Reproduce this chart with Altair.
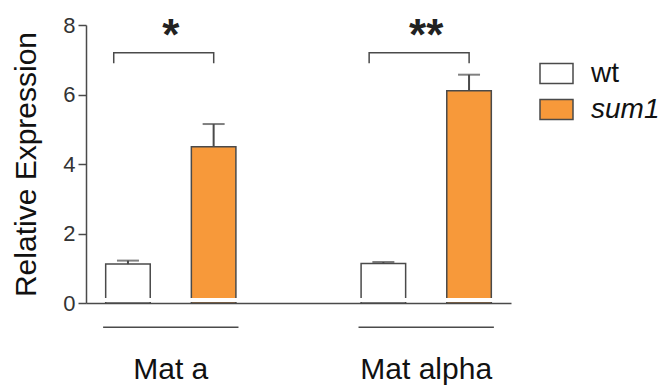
import altair as alt
import pandas as pd

groups = ["Mat a", "Mat alpha"]
genotypes = ["wt", "sum1"]
wt_mean = [1.12, 1.14]
wt_err = [0.10, 0.04]
sum1_mean = [4.50, 6.11]
sum1_err = [0.65, 0.46]
stars = ["*", "**"]
bracket_top = [7.2, 7.2]
bracket_leg = [6.9, 6.9]

ORANGE = "#F7993A"
LINE = "#4a4a4a"
FONT = "Liberation Sans"

rows = []
for i, g in enumerate(groups):
    rows.append({"group": g, "genotype": "wt", "mean": wt_mean[i], "upper": wt_mean[i] + wt_err[i]})
    rows.append({"group": g, "genotype": "sum1", "mean": sum1_mean[i], "upper": sum1_mean[i] + sum1_err[i]})
df = pd.DataFrame(rows)

br = []
for i, g in enumerate(groups):
    br += [
        {"group": g, "genotype": "wt", "y": bracket_leg[i], "o": 0},
        {"group": g, "genotype": "wt", "y": bracket_top[i], "o": 1},
        {"group": g, "genotype": "sum1", "y": bracket_top[i], "o": 2},
        {"group": g, "genotype": "sum1", "y": bracket_leg[i], "o": 3},
    ]
bdf = pd.DataFrame(br)
sdf = pd.DataFrame({"group": groups, "star": stars, "y": bracket_top})
gdf = pd.DataFrame({"group": groups})

xscale = alt.Scale(domain=groups, paddingInner=0.47, paddingOuter=0.067)
x = alt.X("group:N", scale=xscale,
          axis=alt.Axis(title=None, labelAngle=0, ticks=False, tickSize=0,
                        labelPadding=51, labelFontSize=30, labelColor="#111",
                        labelFont=FONT, domainColor=LINE, domainWidth=1.5))
xoff = alt.XOffset("genotype:N", scale=alt.Scale(domain=genotypes, paddingInner=0.48, paddingOuter=0.03))
yscale = alt.Scale(domain=[0, 8], nice=False)
y = alt.Y("mean:Q", scale=yscale,
          axis=alt.Axis(title="Relative Expression", values=[0, 2, 4, 6, 8],
                        grid=False, tickSize=8, tickColor=LINE, tickWidth=1.5,
                        domainColor=LINE, domainWidth=1.5, labelFontSize=22,
                        labelColor="#333", labelPadding=3, labelFont=FONT,
                        titleFont=FONT, titleFontSize=30, titleFontWeight="normal",
                        titleColor="#111", titlePadding=21))

bars = alt.Chart(df).mark_bar(stroke=LINE, strokeWidth=1.5).encode(
    x=x, xOffset=xoff, y=y, y2=alt.datum(0),
    fill=alt.Fill("genotype:N", scale=alt.Scale(domain=genotypes, range=["white", ORANGE]),
                  legend=alt.Legend(title=None, orient="none", legendX=453, legendY=31,
                                    symbolType="M-1,-0.6H1V0.6H-1Z", symbolSize=1089,
                                    symbolStrokeColor=LINE, symbolStrokeWidth=1.5,
                                    symbolOpacity=1,
                                    labelFontSize=28, labelFont=FONT, labelColor="#111",
                                    labelOffset=17, rowPadding=4,
                                    labelFontStyle=alt.expr("datum.label == 'sum1' ? 'italic' : 'normal'"))),
)

cover = alt.Chart(gdf).mark_bar(color="white", yOffset=-1, y2Offset=-5).encode(
    x=alt.X("group:N", scale=xscale), y=alt.datum(0, scale=yscale), y2=alt.datum(0),
)

stem = alt.Chart(df).mark_rule(color=LINE, strokeWidth=2).encode(
    x=alt.X("group:N", scale=xscale), xOffset=xoff,
    y=alt.Y("mean:Q", scale=yscale), y2="upper:Q",
)
cap = alt.Chart(df).mark_tick(color=LINE, thickness=2, size=22, orient="horizontal").encode(
    x=alt.X("group:N", scale=xscale), xOffset=xoff,
    y=alt.Y("upper:Q", scale=yscale),
)

bracket = alt.Chart(bdf).mark_line(color=LINE, strokeWidth=1.5).encode(
    x=alt.X("group:N", scale=xscale),
    xOffset=alt.XOffset("genotype:N", scale=alt.Scale(type="point", domain=genotypes, padding=0.177, align=0.3)),
    y=alt.Y("y:Q", scale=yscale),
    order="o:Q", detail="group:N",
)

text = alt.Chart(sdf).mark_text(font=FONT, fontSize=44, fontWeight="bold", color="#222",
                               baseline="alphabetic", dy=-3).encode(
    x=alt.X("group:N", scale=xscale), y=alt.Y("y:Q", scale=yscale), text="star:N",
)

underline = alt.Chart(gdf).mark_bar(color=LINE, yOffset=23.5, y2Offset=25).encode(
    x=alt.X("group:N", scale=xscale), y=alt.datum(0, scale=yscale), y2=alt.datum(0),
)

chart = alt.layer(bars, cover, stem, cap, bracket, text, underline).resolve_scale(
    xOffset="independent"
).properties(
    width=425, height=278,
    padding={"left": 78, "top": 17, "right": 152, "bottom": 82},
    autosize="none",
).configure_view(stroke=None).configure_axis(zindex=1)

chart.save("out.html", embed_options={"renderer": "svg", "actions": False})
